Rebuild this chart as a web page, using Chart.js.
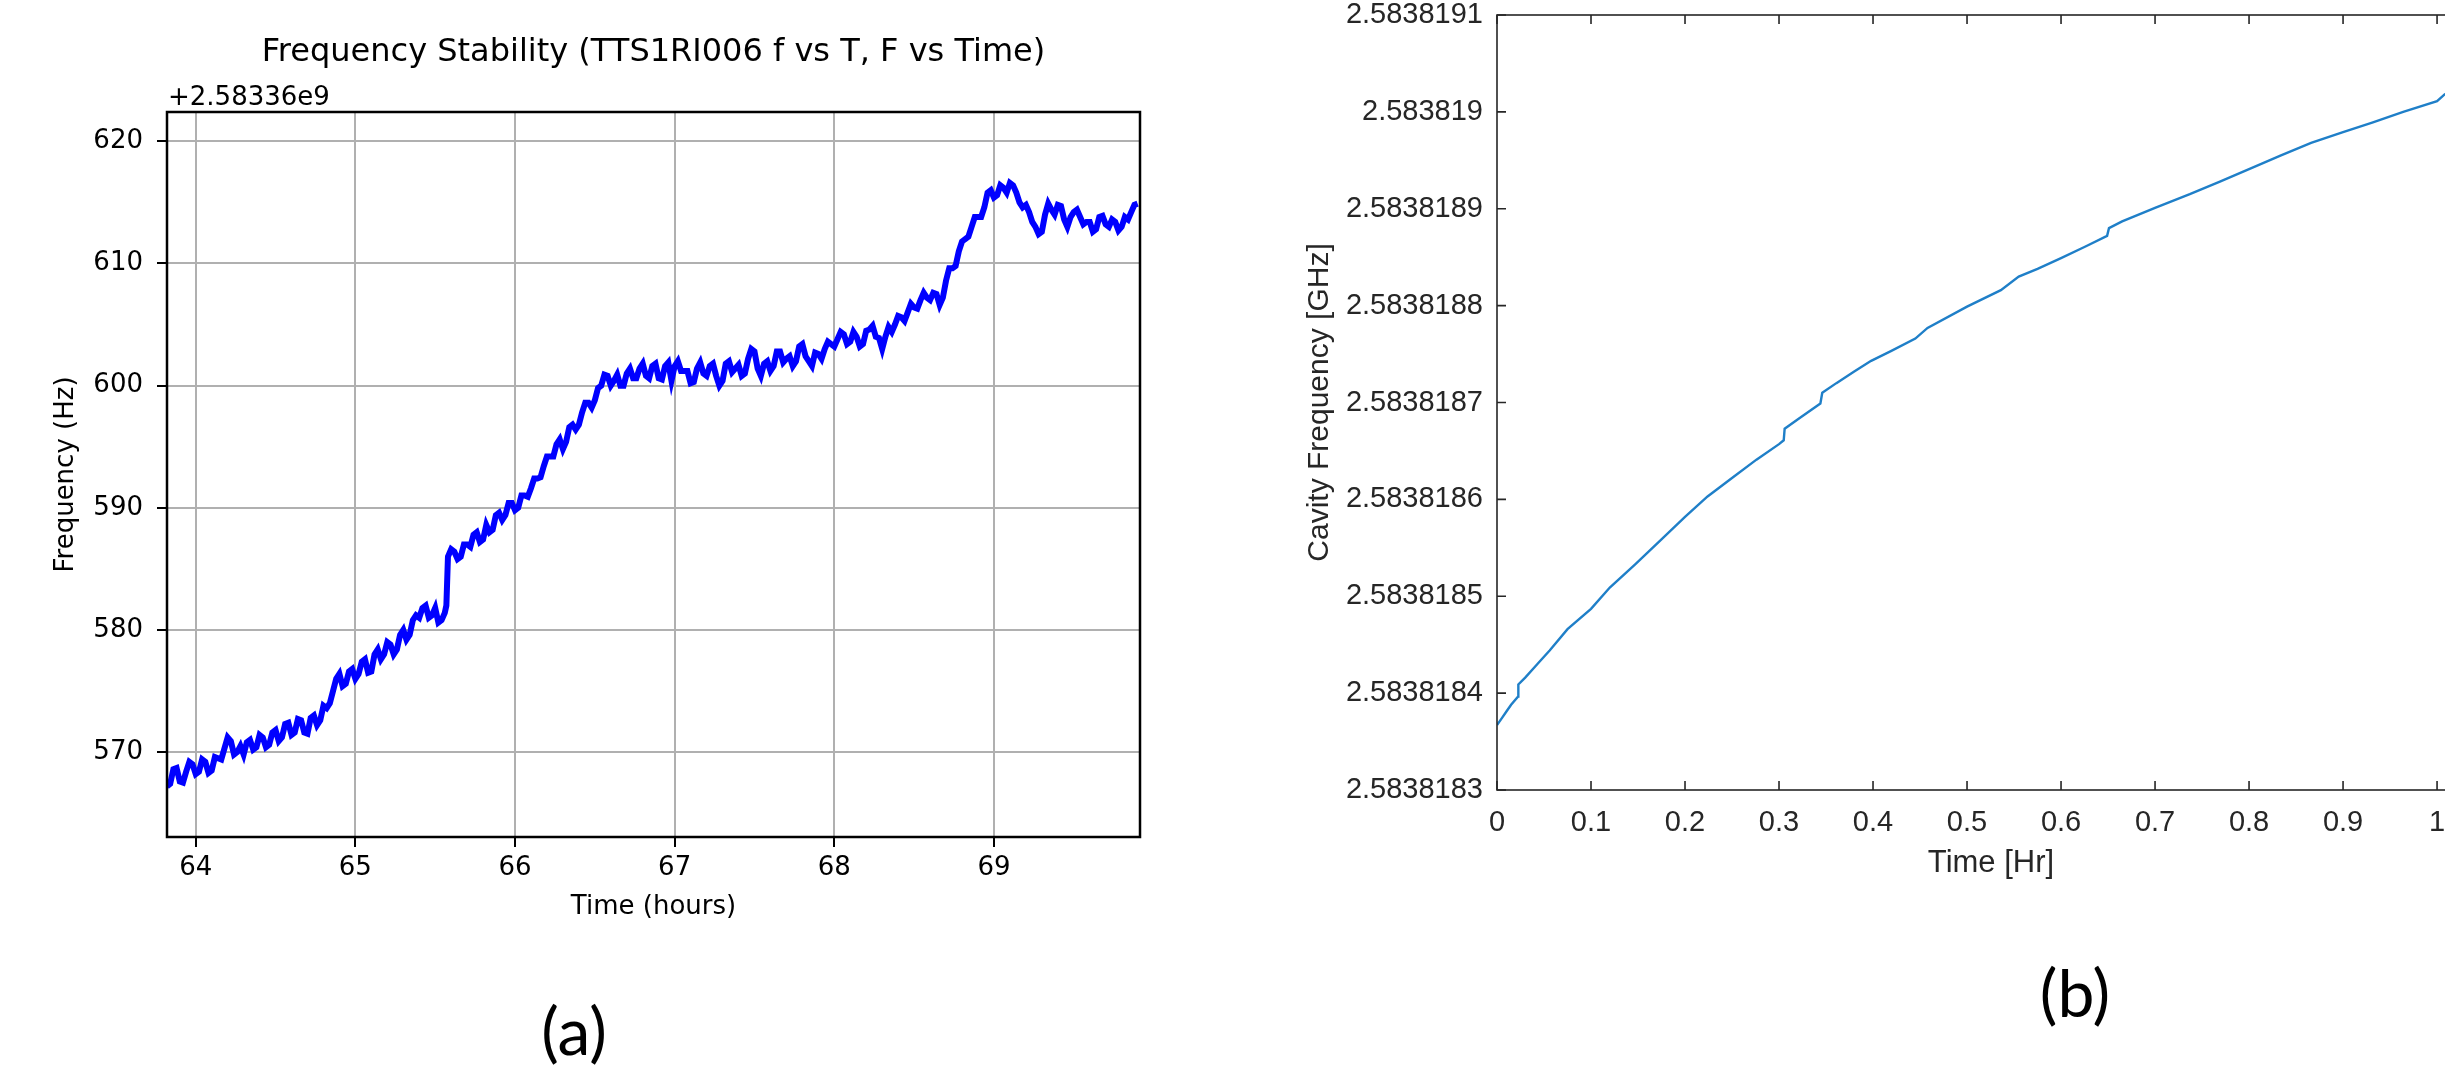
<!DOCTYPE html>
<html>
<head>
<meta charset="utf-8">
<script src="https://cdn.jsdelivr.net/npm/chart.js@4/dist/chart.umd.min.js"></script>
<style>
  html, body { margin: 0; padding: 0; background: #fff; }
  body { width: 2445px; height: 1076px; overflow: hidden; position: relative; }
  .box { position: absolute; }
  .tag { position: absolute; font-family: Lato, "Open Sans", sans-serif; font-size: 66px; line-height: 1; color: #000; transform: translate(-50%, -50%); }
</style>
</head>
<body>
<div class="box" style="left:0;top:0;width:1180px;height:950px;"><canvas id="chartA"></canvas></div>
<div class="box" style="left:1200px;top:0;width:1305px;height:900px;"><canvas id="chartB"></canvas></div>
<div class="tag" style="left:574px;top:1030px;">(a)</div>
<div class="tag" style="left:2075px;top:992px;">(b)</div>
<script>
// (a) frequency offset from 2.58336e9 Hz vs time in hours
const timeA = [63.82, 63.84, 63.86, 63.88, 63.90, 63.92, 63.94, 63.96, 63.98, 64.00,
  64.02, 64.04, 64.06, 64.08, 64.10, 64.12, 64.14, 64.16, 64.18, 64.20,
  64.22, 64.24, 64.26, 64.28, 64.30, 64.32, 64.34, 64.36, 64.38, 64.40,
  64.42, 64.44, 64.46, 64.48, 64.50, 64.52, 64.54, 64.56, 64.58, 64.60,
  64.62, 64.64, 64.66, 64.68, 64.70, 64.72, 64.74, 64.76, 64.78, 64.80,
  64.82, 64.84, 64.86, 64.88, 64.90, 64.92, 64.94, 64.96, 64.98, 65.00,
  65.02, 65.04, 65.06, 65.08, 65.10, 65.12, 65.14, 65.16, 65.18, 65.20,
  65.22, 65.24, 65.26, 65.28, 65.30, 65.32, 65.34, 65.36, 65.38, 65.40,
  65.42, 65.44, 65.46, 65.48, 65.50, 65.52, 65.54, 65.56, 65.57, 65.58,
  65.60, 65.62, 65.64, 65.66, 65.68, 65.70, 65.72, 65.74, 65.76, 65.78,
  65.80, 65.82, 65.84, 65.86, 65.88, 65.90, 65.92, 65.94, 65.96, 65.98,
  66.00, 66.02, 66.04, 66.06, 66.08, 66.10, 66.12, 66.14, 66.16, 66.18,
  66.20, 66.22, 66.24, 66.26, 66.28, 66.30, 66.32, 66.34, 66.36, 66.38,
  66.40, 66.42, 66.44, 66.46, 66.48, 66.50, 66.52, 66.54, 66.56, 66.58,
  66.60, 66.62, 66.64, 66.66, 66.68, 66.70, 66.72, 66.74, 66.76, 66.78,
  66.80, 66.82, 66.84, 66.86, 66.88, 66.90, 66.92, 66.94, 66.96, 66.98,
  67.00, 67.02, 67.04, 67.06, 67.08, 67.10, 67.12, 67.14, 67.16, 67.18,
  67.20, 67.22, 67.24, 67.26, 67.28, 67.30, 67.32, 67.34, 67.36, 67.38,
  67.40, 67.42, 67.44, 67.46, 67.48, 67.50, 67.52, 67.54, 67.56, 67.58,
  67.60, 67.62, 67.64, 67.66, 67.68, 67.70, 67.72, 67.74, 67.76, 67.78,
  67.80, 67.82, 67.84, 67.86, 67.88, 67.90, 67.92, 67.94, 67.96, 67.98,
  68.00, 68.02, 68.04, 68.06, 68.08, 68.10, 68.12, 68.14, 68.16, 68.18,
  68.20, 68.22, 68.24, 68.26, 68.28, 68.30, 68.32, 68.34, 68.36, 68.38,
  68.40, 68.42, 68.44, 68.46, 68.48, 68.50, 68.52, 68.54, 68.56, 68.58,
  68.60, 68.62, 68.64, 68.66, 68.68, 68.70, 68.72, 68.74, 68.76, 68.78,
  68.80, 68.82, 68.84, 68.86, 68.88, 68.90, 68.92, 68.94, 68.96, 68.98,
  69.00, 69.02, 69.04, 69.06, 69.08, 69.10, 69.12, 69.14, 69.16, 69.18,
  69.20, 69.22, 69.24, 69.26, 69.28, 69.30, 69.32, 69.34, 69.36, 69.38,
  69.40, 69.42, 69.44, 69.46, 69.48, 69.50, 69.52, 69.54, 69.56, 69.58,
  69.60, 69.62, 69.64, 69.66, 69.68, 69.70, 69.72, 69.74, 69.76, 69.78,
  69.80, 69.82, 69.84, 69.86, 69.88, 69.90];
const freqA = [567.2, 567.4, 568.6, 568.7, 567.6, 567.5, 568.4, 569.2, 569.0, 568.2,
  568.4, 569.4, 569.2, 568.3, 568.5, 569.6, 569.5, 569.4, 570.3, 571.2,
  570.9, 569.8, 570.0, 570.5, 569.8, 570.8, 571.0, 570.2, 570.4, 571.4,
  571.2, 570.4, 570.6, 571.6, 571.8, 570.9, 571.2, 572.3, 572.4, 571.4,
  571.6, 572.7, 572.6, 571.6, 571.5, 572.8, 573.0, 572.2, 572.6, 573.8,
  573.6, 574.0, 575.0, 576.0, 576.4, 575.4, 575.6, 576.6, 576.8, 576.0,
  576.4, 577.4, 577.6, 576.5, 576.6, 578.0, 578.4, 577.6, 578.0, 579.0,
  578.8, 578.0, 578.4, 579.6, 580.0, 579.2, 579.6, 580.8, 581.2, 581.0,
  581.8, 582.0, 581.0, 581.2, 581.8, 580.6, 580.8, 581.4, 582.0, 586.0,
  586.6, 586.4, 585.8, 586.0, 587.0, 587.0, 586.8, 587.8, 588.0, 587.2,
  587.4, 588.6, 588.0, 588.2, 589.4, 589.6, 589.0, 589.4, 590.4, 590.4,
  589.8, 590.0, 591.0, 591.0, 590.9, 591.6, 592.4, 592.4, 592.5, 593.4,
  594.2, 594.2, 594.2, 595.2, 595.6, 594.8, 595.4, 596.6, 596.8, 596.4,
  596.8, 597.8, 598.6, 598.6, 598.2, 598.8, 599.8, 600.0, 600.9, 600.8,
  600.0, 600.4, 600.9, 600.0, 600.0, 601.0, 601.4, 600.6, 600.6, 601.4,
  601.8, 600.8, 600.6, 601.6, 601.8, 600.6, 600.5, 601.6, 601.9, 600.4,
  601.6, 602.0, 601.2, 601.2, 601.2, 600.2, 600.3, 601.4, 601.9, 601.0,
  600.8, 601.6, 601.8, 600.8, 600.0, 600.4, 601.8, 602.0, 601.1, 601.4,
  601.7, 600.8, 601.0, 602.2, 603.0, 602.8, 601.4, 600.8, 601.8, 602.0,
  601.2, 601.6, 602.8, 602.8, 601.9, 602.2, 602.4, 601.6, 602.0, 603.2,
  603.4, 602.4, 602.0, 601.6, 602.7, 602.6, 602.2, 603.0, 603.6, 603.4,
  603.2, 603.8, 604.4, 604.2, 603.4, 603.6, 604.4, 604.0, 603.2, 603.4,
  604.5, 604.6, 604.9, 604.0, 603.9, 603.0, 604.0, 604.8, 604.4, 605.0,
  605.7, 605.6, 605.3, 606.0, 606.7, 606.4, 606.3, 607.0, 607.6, 607.2,
  607.0, 607.6, 607.5, 606.6, 607.2, 608.6, 609.6, 609.6, 609.8, 611.0,
  611.8, 612.0, 612.2, 613.0, 613.8, 613.8, 613.8, 614.6, 615.8, 616.0,
  615.4, 615.6, 616.4, 616.2, 615.8, 616.6, 616.4, 615.8, 615.0, 614.6,
  614.8, 614.2, 613.4, 613.0, 612.4, 612.6, 614.0, 614.9, 614.4, 614.0,
  614.8, 614.7, 613.6, 613.0, 613.8, 614.2, 614.4, 613.8, 613.2, 613.4,
  613.4, 612.6, 612.8, 613.8, 613.9, 613.2, 613.0, 613.6, 613.4, 612.7,
  613.0, 613.8, 613.6, 614.2, 614.8, 614.9];
const xTicksA = [64, 65, 66, 67, 68, 69];
const xTickLabelsA = ['64', '65', '66', '67', '68', '69'];
const yTicksA = [570, 580, 590, 600, 610, 620];
const yTickLabelsA = ['570', '580', '590', '600', '610', '620'];

// (b) cavity frequency in GHz vs time in hours
const timeB = [0, 0.005, 0.01, 0.015, 0.0225, 0.0227, 0.03, 0.043, 0.056, 0.075,
  0.1, 0.12, 0.147, 0.173, 0.2, 0.224, 0.25, 0.276, 0.3, 0.305,
  0.306, 0.322, 0.344, 0.346, 0.361, 0.38, 0.398, 0.419, 0.445, 0.458,
  0.5, 0.536, 0.555, 0.575, 0.6, 0.626, 0.649, 0.651, 0.665, 0.7,
  0.737, 0.769, 0.8, 0.834, 0.866, 0.9, 0.931, 0.964, 1.0, 1.008,
  1.03, 1.051];
const freqB = [2.583818367, 2.583818374, 2.583818381, 2.583818388, 2.5838183965, 2.583818409, 2.583818416, 2.583818430, 2.583818444, 2.583818466,
  2.583818487, 2.583818509, 2.583818533, 2.583818557, 2.583818582, 2.583818603, 2.583818622, 2.583818641, 2.583818657, 2.583818661,
  2.583818673, 2.583818684, 2.583818699, 2.583818710, 2.583818720, 2.583818732, 2.583818743, 2.583818753, 2.583818766, 2.583818777,
  2.583818799, 2.583818816, 2.583818830, 2.583818838, 2.583818849, 2.583818861, 2.583818872, 2.583818880, 2.583818887, 2.583818901,
  2.583818915, 2.583818928, 2.583818941, 2.583818955, 2.583818968, 2.583818979, 2.583818989, 2.583819000, 2.583819011, 2.583819018,
  2.583819030, 2.583819040];
const xTicksB = [0, 0.1, 0.2, 0.3, 0.4, 0.5, 0.6, 0.7, 0.8, 0.9, 1];
const xTickLabelsB = ['0', '0.1', '0.2', '0.3', '0.4', '0.5', '0.6', '0.7', '0.8', '0.9', '1'];
const yTicksB = [2.5838183, 2.5838184, 2.5838185, 2.5838186, 2.5838187, 2.5838188, 2.5838189, 2.583819, 2.5838191];
const yTickLabelsB = ['2.5838183', '2.5838184', '2.5838185', '2.5838186', '2.5838187', '2.5838188', '2.5838189', '2.583819', '2.5838191'];

const mplFont = (size) => ({ family: 'DejaVu Sans', size: size, weight: 'normal', lineHeight: 1.2 });
const matFont = (size) => ({ family: 'Liberation Sans', size: size, weight: 'normal', lineHeight: 1.2 });

const fixTicks = (list) => (scale) => { scale.ticks = list.map(v => ({ value: v })); };
const fixSize = (prop, n) => (scale) => {
  scale[prop] = n;
  scale.paddingTop = 0; scale.paddingBottom = 0; scale.paddingLeft = 0; scale.paddingRight = 0;
};

// matplotlib frame + offset text
const frameA = {
  id: 'frameA',
  afterDatasetsDraw(chart) {
    const { ctx, chartArea: a } = chart;
    ctx.save();
    ctx.strokeStyle = '#000';
    ctx.lineWidth = 2.5;
    ctx.strokeRect(a.left, a.top, a.right - a.left, a.bottom - a.top);
    ctx.fillStyle = '#000';
    ctx.font = '26px "DejaVu Sans"';
    ctx.textAlign = 'left';
    ctx.textBaseline = 'middle';
    ctx.fillText('+2.58336e9', a.left + 1, 98);
    ctx.restore();
  }
};

// matlab box with inward ticks
const frameB = {
  id: 'frameB',
  afterDatasetsDraw(chart) {
    const { ctx, chartArea: a, scales } = chart;
    ctx.save();
    ctx.strokeStyle = '#262626';
    ctx.lineWidth = 1.6;
    ctx.strokeRect(a.left, a.top, a.right - a.left, a.bottom - a.top);
    ctx.beginPath();
    scales.x.ticks.forEach(t => {
      const px = scales.x.getPixelForValue(t.value);
      ctx.moveTo(px, a.bottom); ctx.lineTo(px, a.bottom - 9);
      ctx.moveTo(px, a.top); ctx.lineTo(px, a.top + 9);
    });
    scales.y.ticks.forEach(t => {
      const py = scales.y.getPixelForValue(t.value);
      ctx.moveTo(a.left, py); ctx.lineTo(a.left + 9, py);
      ctx.moveTo(a.right, py); ctx.lineTo(a.right - 9, py);
    });
    ctx.stroke();
    ctx.restore();
  }
};

new Chart(document.getElementById('chartA').getContext('2d'), {
  type: 'line',
  data: {
    datasets: [{
      data: timeA.map((t, i) => ({ x: t, y: freqA[i] })),
      borderColor: '#0000ff',
      borderWidth: 6,
      pointRadius: 0,
      tension: 0,
      fill: false
    }]
  },
  options: {
    responsive: true,
    maintainAspectRatio: false,
    animation: false,
    layout: { padding: { left: 0, right: 40, top: 0, bottom: 0 } },
    plugins: {
      legend: { display: false },
      tooltip: { enabled: false },
      title: {
        display: true,
        fullSize: false,
        text: 'Frequency Stability (TTS1RI006 f vs T, F vs Time)',
        color: '#000',
        font: mplFont(32),
        padding: { top: 33, bottom: 40.6 }
      }
    },
    scales: {
      x: {
        type: 'linear',
        min: 63.82,
        max: 69.915,
        bounds: 'data',
        afterBuildTicks: fixTicks(xTicksA),
        afterFit: fixSize('height', 113),
        ticks: { autoSkip: false, maxRotation: 0, color: '#000', font: mplFont(26), padding: 6,
          callback: (v, i) => xTickLabelsA[i] },
        grid: { color: '#b0b0b0', lineWidth: 2, tickColor: '#000', tickWidth: 2, tickLength: 10 },
        border: { display: false },
        title: { display: true, text: 'Time (hours)', color: '#000', font: mplFont(26), padding: { top: 0, bottom: 27 } }
      },
      y: {
        type: 'linear',
        min: 563.05,
        max: 622.4,
        bounds: 'data',
        afterBuildTicks: fixTicks(yTicksA),
        afterFit: fixSize('width', 167),
        ticks: { autoSkip: false, color: '#000', font: mplFont(26), padding: 14,
          callback: (v, i) => yTickLabelsA[i] },
        grid: { color: '#b0b0b0', lineWidth: 2, tickColor: '#000', tickWidth: 2, tickLength: 10 },
        border: { display: false },
        title: { display: true, text: 'Frequency (Hz)', color: '#000', font: mplFont(26), padding: { top: 51, bottom: 0 } }
      }
    }
  },
  plugins: [frameA]
});

new Chart(document.getElementById('chartB').getContext('2d'), {
  type: 'line',
  data: {
    datasets: [{
      data: timeB.map((t, i) => ({ x: t, y: freqB[i] })),
      borderColor: '#1f7fc8',
      borderWidth: 2.4,
      pointRadius: 0,
      tension: 0,
      fill: false
    }]
  },
  options: {
    responsive: true,
    maintainAspectRatio: false,
    animation: false,
    layout: { padding: { left: 0, right: 20, top: 15, bottom: 0 } },
    plugins: {
      legend: { display: false },
      tooltip: { enabled: false },
      title: { display: false }
    },
    scales: {
      x: {
        type: 'linear',
        min: 0,
        max: 1.051,
        bounds: 'data',
        afterBuildTicks: fixTicks(xTicksB),
        afterFit: fixSize('height', 110),
        ticks: { autoSkip: false, maxRotation: 0, color: '#262626', font: matFont(29), padding: 16,
          callback: (v, i) => xTickLabelsB[i] },
        grid: { display: false, drawTicks: false },
        border: { display: false },
        title: { display: true, text: 'Time [Hr]', color: '#262626', font: matFont(31), padding: { top: 0, bottom: 18 } }
      },
      y: {
        type: 'linear',
        min: 2.5838183,
        max: 2.5838191,
        bounds: 'data',
        afterBuildTicks: fixTicks(yTicksB),
        afterFit: fixSize('width', 297),
        ticks: { autoSkip: false, color: '#262626', font: matFont(29), padding: 14,
          callback: (v, i) => yTickLabelsB[i] },
        grid: { display: false, drawTicks: false },
        border: { display: false },
        title: { display: true, text: 'Cavity Frequency [GHz]', color: '#262626', font: matFont(30), padding: { top: 102, bottom: 0 } }
      }
    }
  },
  plugins: [frameB]
});
</script>
</body>
</html>
